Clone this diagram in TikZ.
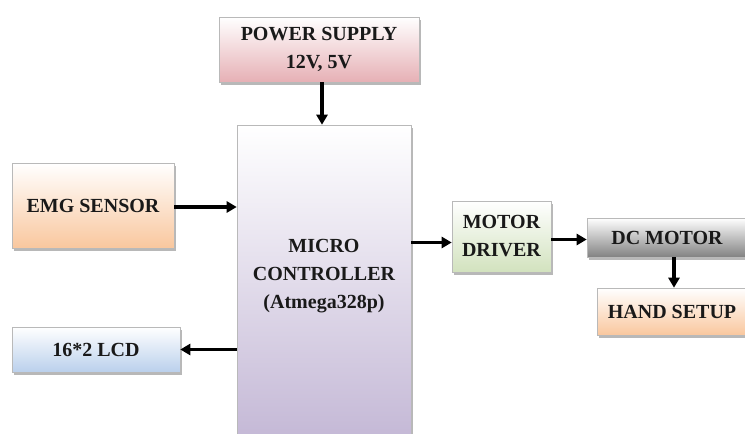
\documentclass[tikz,border=0pt]{standalone}
\usepackage{fontspec}
\setmainfont{Liberation Serif}
\usetikzlibrary{arrows.meta,shadows}
\definecolor{pinkb}{RGB}{230,176,181}
\definecolor{lavb}{RGB}{196,184,214}
\definecolor{peachb}{RGB}{249,199,158}
\definecolor{blueb}{RGB}{186,208,236}
\definecolor{greenb}{RGB}{210,226,190}
\definecolor{grayb}{RGB}{130,130,130}
\tikzset{
  blk/.style={draw=gray!55, line width=0.6pt, inner sep=0pt, align=center,
    font=\fontsize{20}{28}\selectfont\bfseries, text=black!90,
    drop shadow={shadow xshift=2.2pt, shadow yshift=-2.8pt, fill=black, opacity=0.28},
    top color=white},
  lbl/.style={align=center, font=\fontsize{20}{28}\selectfont\bfseries, text=black!90, inner sep=0pt},
  arr/.style={line width=3.2pt, -{Triangle[length=10pt,width=11pt]}}
}
\begin{document}
\begin{tikzpicture}[x=1pt,y=1pt]
\useasboundingbox[fill=white] (0,0) rectangle (745,-434);
\node[blk, bottom color=pinkb, minimum width=200pt, minimum height=65pt] (ps) at (319,-49.5) {POWER SUPPLY\\12V, 5V};
\node[blk, bottom color=lavb, minimum width=174pt, minimum height=315pt] (mc) at (324,-282.5) {};
\node[lbl] (mct) at (324,-276) {MICRO\\CONTROLLER\\(Atmega328p)};
\node[blk, bottom color=peachb, minimum width=162pt, minimum height=85pt] (emg) at (93,-205.5) {EMG SENSOR};
\node[blk, bottom color=blueb, minimum width=168pt, minimum height=45pt] (lcd) at (96,-349.5) {16*2 LCD};
\node[blk, bottom color=greenb, minimum width=99pt, minimum height=71pt] (md) at (501.5,-236.5) {MOTOR\\DRIVER};
\node[blk, bottom color=grayb, minimum width=160pt, minimum height=39pt] (dc) at (667,-237.5) {DC MOTOR};
\node[blk, bottom color=peachb, minimum width=150pt, minimum height=47pt] (hs) at (672,-311.5) {HAND SETUP};
\draw[arr] ([xshift=3pt]ps.south) -- ([xshift=3pt]ps.south |- mc.north);
\draw[arr] ([yshift=-1.5pt]emg.east) -- ([yshift=-1.5pt]emg.east -| mc.west);
\draw[arr] (lcd.east -| mc.west) -- (lcd.east);
\draw[arr] ([yshift=-6pt]md.west -| mc.east) -- ([yshift=-6pt]md.west);
\draw[arr] ([yshift=-3pt]md.east) -- ([yshift=-3pt]md.east -| dc.west);
\draw[arr] ([xshift=7pt]dc.south) -- ([xshift=7pt]dc.south |- hs.north);
\end{tikzpicture}
\end{document}
